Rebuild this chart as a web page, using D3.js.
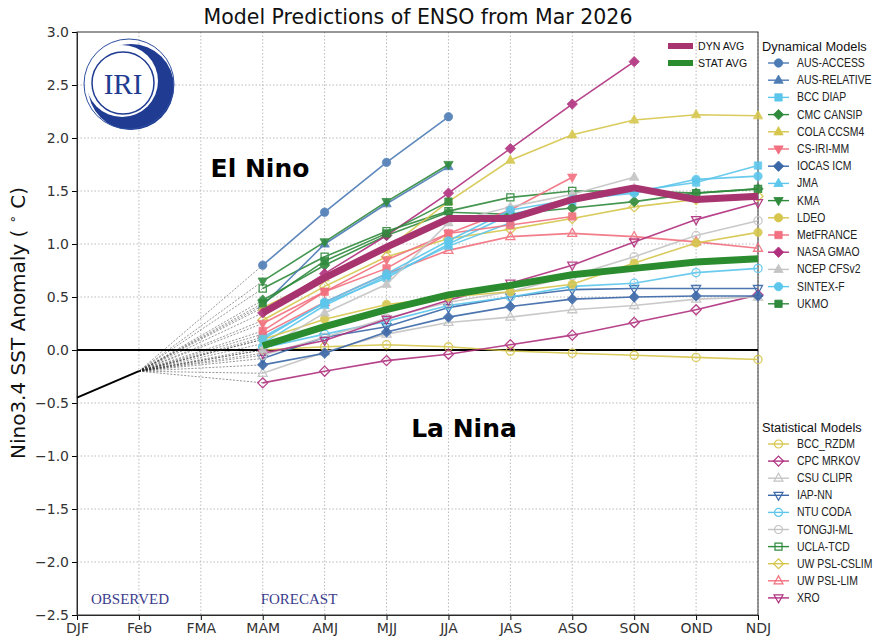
<!DOCTYPE html>
<html>
<head>
<meta charset="utf-8">
<script src="https://cdn.jsdelivr.net/npm/d3@7"></script>
<style>
  body { margin: 0; background: #fff; }
  text { font-family: 'DejaVu Sans', sans-serif; }
</style>
</head>
<body>
<svg width="876" height="640"></svg>
<script>
const svg = d3.select('svg');

// x categories and y ticks
const seasons = ['DJF', 'Feb', 'FMA', 'MAM', 'AMJ', 'MJJ', 'JJA', 'JAS', 'ASO', 'SON', 'OND', 'NDJ'];
const forecastSeasons = ['MAM', 'AMJ', 'MJJ', 'JJA', 'JAS', 'ASO', 'SON', 'OND', 'NDJ'];
const yTicks = [-2.5, -2.0, -1.5, -1.0, -0.5, 0.0, 0.5, 1.0, 1.5, 2.0, 2.5, 3.0];

// observed values (DJF, Feb)
const observedSeasons = ['DJF', 'Feb'];
const observed = [-0.45, -0.2];

// dynamical models, MAM .. NDJ (null = no forecast)
const ausAccess   = [0.80, 1.30, 1.77, 2.20, null, null, null, null, null];
const ausRelative = [0.42, 1.00, 1.38, 1.73, null, null, null, null, null];
const bccDiap     = [0.12, 0.44, 0.68, 1.00, 1.28, 1.40, 1.50, 1.58, 1.74];
const cmcCansip   = [0.47, 0.80, 1.08, 1.30, 1.28, 1.34, 1.40, 1.48, 1.52];
const colaCcsm4   = [0.40, 0.68, 0.95, 1.40, 1.79, 2.03, 2.17, 2.22, 2.21];
const csIriMm     = [0.25, 0.55, 0.85, 1.10, 1.32, 1.63, null, null, null];
const iocasIcm    = [-0.14, -0.03, 0.17, 0.31, 0.41, 0.48, 0.50, 0.51, 0.51];
const jma         = [0.06, 0.42, 0.70, 0.98, 1.20, null, null, null, null];
const kma         = [0.65, 1.02, 1.40, 1.75, null, null, null, null, null];
const ldeo        = [0.10, 0.29, 0.43, 0.50, 0.55, 0.62, 0.82, 1.01, 1.11];
const metFrance   = [0.18, 0.55, 0.77, 1.10, 1.18, 1.26, null, null, null];
const nasaGmao    = [0.35, 0.72, 1.08, 1.48, 1.90, 2.32, 2.72, null, null];
const ncepCfsv2   = [0.00, 0.35, 0.62, 1.20, 1.35, 1.47, 1.63, null, null];
const sintexF     = [0.10, 0.45, 0.72, 1.03, 1.32, 1.42, 1.48, 1.61, 1.64];
const ukmo        = [0.44, 0.84, 1.10, 1.40, null, null, null, null, null];

// statistical models, MAM .. NDJ
const bccRzdm     = [0.00, 0.03, 0.05, 0.03, -0.01, -0.03, -0.05, -0.07, -0.09];
const cpcMrkov    = [-0.31, -0.20, -0.10, -0.04, 0.05, 0.14, 0.26, 0.38, 0.52];
const csuClipr    = [-0.22, -0.02, 0.15, 0.26, 0.31, 0.38, 0.42, 0.48, 0.50];
const iapNn       = [-0.08, 0.12, 0.22, 0.40, 0.50, 0.57, 0.58, 0.58, 0.58];
const ntuCoda     = [0.02, 0.15, 0.27, 0.42, 0.50, 0.60, 0.63, 0.73, 0.77];
const tongjiMl    = [-0.05, 0.12, 0.30, 0.45, 0.55, 0.70, 0.88, 1.08, 1.22];
const uclaTcd     = [0.58, 0.88, 1.12, 1.31, 1.44, 1.50, 1.50, 1.48, 1.52];
const uwPslCslim  = [0.28, 0.60, 0.88, 1.05, 1.14, 1.24, 1.35, 1.42, 1.45];
const uwPslLim    = [0.15, 0.45, 0.72, 0.94, 1.07, 1.10, 1.07, 1.02, 0.96];
const xro         = [-0.03, 0.09, 0.29, 0.47, 0.63, 0.80, 1.02, 1.23, 1.39];

// averages
const dynAvg  = [0.35, 0.68, 0.97, 1.24, 1.24, 1.42, 1.53, 1.42, 1.45];
const statAvg = [0.04, 0.22, 0.38, 0.52, 0.61, 0.71, 0.77, 0.83, 0.86];

// colours
const cSteel = '#4d7cb5';
const cBlue = '#3a67a8';
const cLight = '#5cc6ec';
const cGreen = '#2f8a3c';
const cYellow = '#d6c64c';
const cSalmon = '#f2707f';
const cMagenta = '#b0307e';
const cGray = '#c4c4c4';

// matplotlib-like marker shapes
const triUp = { draw: (ctx, size) => {
  const r = Math.sqrt(size) * 0.62;
  ctx.moveTo(0, -r);
  ctx.lineTo(r * 0.9, r * 0.6);
  ctx.lineTo(-r * 0.9, r * 0.6);
  ctx.closePath();
}};
const triDown = { draw: (ctx, size) => {
  const r = Math.sqrt(size) * 0.62;
  ctx.moveTo(0, r);
  ctx.lineTo(r * 0.9, -r * 0.6);
  ctx.lineTo(-r * 0.9, -r * 0.6);
  ctx.closePath();
}};
const diamond = { draw: (ctx, size) => {
  const r = Math.sqrt(size) * 0.62;
  ctx.moveTo(0, -r);
  ctx.lineTo(r, 0);
  ctx.lineTo(0, r);
  ctx.lineTo(-r, 0);
  ctx.closePath();
}};
const square = { draw: (ctx, size) => {
  const h = Math.sqrt(size) * 0.44;
  ctx.rect(-h, -h, 2 * h, 2 * h);
}};
const circle = { draw: (ctx, size) => {
  const r = Math.sqrt(size) * 0.5;
  ctx.moveTo(r, 0);
  ctx.arc(0, 0, r, 0, 2 * Math.PI);
}};

const dynamical = [
  { name: 'AUS-ACCESS', values: ausAccess, color: cSteel, shape: circle },
  { name: 'AUS-RELATIVE', values: ausRelative, color: cSteel, shape: triUp },
  { name: 'BCC DIAP', values: bccDiap, color: cLight, shape: square },
  { name: 'CMC CANSIP', values: cmcCansip, color: cGreen, shape: diamond },
  { name: 'COLA CCSM4', values: colaCcsm4, color: cYellow, shape: triUp },
  { name: 'CS-IRI-MM', values: csIriMm, color: cSalmon, shape: triDown },
  { name: 'IOCAS ICM', values: iocasIcm, color: cBlue, shape: diamond },
  { name: 'JMA', values: jma, color: cLight, shape: triUp },
  { name: 'KMA', values: kma, color: cGreen, shape: triDown },
  { name: 'LDEO', values: ldeo, color: cYellow, shape: circle },
  { name: 'MetFRANCE', values: metFrance, color: cSalmon, shape: square },
  { name: 'NASA GMAO', values: nasaGmao, color: cMagenta, shape: diamond },
  { name: 'NCEP CFSv2', values: ncepCfsv2, color: cGray, shape: triUp },
  { name: 'SINTEX-F', values: sintexF, color: cLight, shape: circle },
  { name: 'UKMO', values: ukmo, color: cGreen, shape: square }
];

const statistical = [
  { name: 'BCC_RZDM', values: bccRzdm, color: cYellow, shape: circle },
  { name: 'CPC MRKOV', values: cpcMrkov, color: cMagenta, shape: diamond },
  { name: 'CSU CLIPR', values: csuClipr, color: cGray, shape: triUp },
  { name: 'IAP-NN', values: iapNn, color: cBlue, shape: triDown },
  { name: 'NTU CODA', values: ntuCoda, color: cLight, shape: circle },
  { name: 'TONGJI-ML', values: tongjiMl, color: cGray, shape: circle },
  { name: 'UCLA-TCD', values: uclaTcd, color: cGreen, shape: square },
  { name: 'UW PSL-CSLIM', values: uwPslCslim, color: cYellow, shape: diamond },
  { name: 'UW PSL-LIM', values: uwPslLim, color: cSalmon, shape: triUp },
  { name: 'XRO', values: xro, color: cMagenta, shape: triDown }
];

const x = d3.scalePoint().domain(seasons).range([77, 758]);
const y = d3.scaleLinear().domain([-2.5, 3]).range([615, 32]);

//grid
const grid = svg.append('g');
grid.selectAll('.vg').data(seasons.slice(1)).enter().append('line')
  .attr('x1', d => x(d)).attr('x2', d => x(d))
  .attr('y1', y(3)).attr('y2', y(-2.5))
  .attr('stroke', '#bbb').attr('stroke-dasharray', '1.5,2').attr('stroke-width', 1);
grid.selectAll('.hg').data(yTicks.slice(1, -1)).enter().append('line')
  .attr('x1', x('DJF')).attr('x2', x('NDJ'))
  .attr('y1', d => y(d)).attr('y2', d => y(d))
  .attr('stroke', '#bbb').attr('stroke-dasharray', '1.5,2').attr('stroke-width', 1);

//axes
const xAxis = d3.axisBottom(x).tickSize(5).tickPadding(3);
const yAxis = d3.axisLeft(y).tickValues(yTicks).tickFormat(d3.format('.1f')).tickSize(5).tickPadding(3);

const xAxisG = svg.append('g').attr('transform', `translate(0,${y(-2.5)})`).call(xAxis);
const yAxisG = svg.append('g').attr('transform', `translate(${x('DJF')},0)`).call(yAxis);
[xAxisG, yAxisG].forEach(g => {
  g.selectAll('text').attr('font-size', 14).attr('fill', '#333')
    .style('font-family', "'DejaVu Sans', sans-serif");
  g.select('.domain').attr('stroke', '#222');
});
yAxisG.selectAll('text').text(d => d3.format('.1f')(d).replace('-', '\u2212'));

// frame
svg.append('rect')
  .attr('x', x('DJF')).attr('y', y(3))
  .attr('width', x('NDJ') - x('DJF')).attr('height', y(-2.5) - y(3))
  .attr('fill', 'none').attr('stroke', '#333').attr('stroke-width', 1);

// zero line
svg.append('line')
  .attr('x1', x('DJF')).attr('x2', x('NDJ'))
  .attr('y1', y(0)).attr('y2', y(0))
  .attr('stroke', '#000').attr('stroke-width', 2.2);

// IRI logo
const logo = svg.append('g');
logo.append('circle').attr('cx', 131).attr('cy', 87).attr('r', 43).attr('fill', '#1f3b92');
logo.append('circle').attr('cx', 122).attr('cy', 81).attr('r', 36).attr('fill', '#fff');
logo.append('circle').attr('cx', 129).attr('cy', 84).attr('r', 45)
  .attr('fill', 'none').attr('stroke', '#2c4d9f').attr('stroke-width', 1);
logo.append('circle').attr('cx', 123).attr('cy', 83).attr('r', 31)
  .attr('fill', 'none').attr('stroke', '#1f3b92').attr('stroke-width', 1.5);
logo.append('text').attr('x', 123).attr('y', 94).attr('text-anchor', 'middle')
  .style('font-family', "'Liberation Serif', serif").attr('font-size', 29)
  .attr('fill', '#1f3b92').text('IRI');

// text labels in plot
svg.append('text').attr('x', 260).attr('y', 177).attr('text-anchor', 'middle')
  .attr('font-size', 25).attr('font-weight', 'bold').attr('fill', '#000').text('El Nino');
svg.append('text').attr('x', 464).attr('y', 437).attr('text-anchor', 'middle')
  .attr('font-size', 25).attr('font-weight', 'bold').attr('fill', '#000').text('La Nina');
svg.append('text').attr('x', 130).attr('y', 604).attr('text-anchor', 'middle')
  .style('font-family', "'Liberation Serif', serif").attr('font-size', 15)
  .attr('fill', '#3c3c8c').text('OBSERVED');
svg.append('text').attr('x', 299).attr('y', 604).attr('text-anchor', 'middle')
  .style('font-family', "'Liberation Serif', serif").attr('font-size', 15)
  .attr('fill', '#3c3c8c').text('FORECAST');

// title and y label
svg.append('text').attr('x', 418).attr('y', 24).attr('text-anchor', 'middle')
  .attr('font-size', 20.5).attr('fill', '#111').text('Model Predictions of ENSO from Mar 2026');
const yLab = svg.append('text').attr('transform', 'translate(25,323) rotate(-90)')
  .attr('text-anchor', 'middle').attr('font-size', 20).attr('fill', '#111');
yLab.append('tspan').text('Nino3.4 SST Anomaly ( ');
yLab.append('tspan').attr('font-size', 13).attr('dy', -8).text('\u2218');
yLab.append('tspan').attr('dy', 8).text(' C)');

const allModels = dynamical.concat(statistical);

// dashed links from the last observation to each first forecast
const plot = svg.append('g');
plot.selectAll('.link').data(allModels).enter().append('line')
  .attr('x1', x('Feb')).attr('y1', y(observed[1]))
  .attr('x2', x('MAM')).attr('y2', d => y(d.values[0]))
  .attr('stroke', '#222').attr('stroke-opacity', 0.6)
  .attr('stroke-width', 0.8).attr('stroke-dasharray', '2,1.5');

// observed line
const obsLine = d3.line().x((d, i) => x(observedSeasons[i])).y(d => y(d));
plot.append('path').attr('d', obsLine(observed))
  .attr('fill', 'none').attr('stroke', '#000').attr('stroke-width', 2);

const line = d3.line()
  .defined(d => d != null)
  .x((d, i) => x(forecastSeasons[i]))
  .y(d => y(d));

const pts = m => m.values.map((v, i) => ({ v, s: forecastSeasons[i] })).filter(p => p.v != null);

// models
const drawModel = (m, filled) => {
  const g = plot.append('g').attr('opacity', 0.9);
  g.append('path').attr('d', line(m.values))
    .attr('fill', 'none').attr('stroke', m.color).attr('stroke-width', 1.6);
  g.selectAll('path.mk').data(pts(m)).enter().append('path')
    .attr('class', 'mk')
    .attr('d', d3.symbol().type(m.shape).size(filled ? 70 : 66))
    .attr('transform', p => `translate(${x(p.s)},${y(p.v)})`)
    .attr('fill', filled ? m.color : 'none')
    .attr('stroke', m.color).attr('stroke-width', filled ? 0.8 : 1.3);
};
statistical.forEach(m => drawModel(m, false));
dynamical.forEach(m => drawModel(m, true));

// averages
plot.append('path').attr('d', line(statAvg))
  .attr('fill', 'none').attr('stroke', '#2a8c2e').attr('stroke-width', 7).attr('stroke-linejoin', 'round');
plot.append('path').attr('d', line(dynAvg))
  .attr('fill', 'none').attr('stroke', '#a8346f').attr('stroke-width', 7).attr('stroke-linejoin', 'round');

// average legend
const avgLegend = [
  { name: 'DYN AVG', color: '#a8346f' },
  { name: 'STAT AVG', color: '#2a8c2e' }
];
const al = svg.append('g').selectAll('g').data(avgLegend).enter().append('g')
  .attr('transform', (d, i) => `translate(668,${46 + i * 17})`);
al.append('line').attr('x1', 0).attr('x2', 25).attr('stroke', d => d.color).attr('stroke-width', 6);
al.append('text').attr('transform', 'translate(30,4) scale(0.92,1)').attr('font-size', 11.5)
  .style('font-family', "'Liberation Sans', sans-serif").attr('fill', '#111').text(d => d.name);

// model legends
const modelLegend = (title, list, top, step, filled) => {
  const g = svg.append('g');
  g.append('text').attr('transform', `translate(762,${top - 12}) scale(0.95,1)`).attr('font-size', 13.5)
    .style('font-family', "'Liberation Sans', sans-serif").attr('fill', '#111').text(title);
  const it = g.selectAll('g').data(list).enter().append('g')
    .attr('transform', (d, i) => `translate(768,${top + i * step})`);
  it.append('line').attr('x1', 0).attr('x2', 21).attr('stroke', d => d.color).attr('stroke-width', 1.4);
  it.append('path')
    .attr('d', d => d3.symbol().type(d.shape).size(filled ? 70 : 64)())
    .attr('transform', 'translate(10.5,0)')
    .attr('fill', d => filled ? d.color : 'none')
    .attr('stroke', d => d.color).attr('stroke-width', filled ? 0.8 : 1.2);
  it.append('text').attr('transform', 'translate(29,4) scale(0.87,1)').attr('font-size', 12)
    .style('font-family', "'Liberation Sans', sans-serif").attr('fill', '#222').text(d => d.name);
};
modelLegend('Dynamical Models', dynamical, 63, 17.2, true);
modelLegend('Statistical Models', statistical, 444, 17.1, false);
</script>
</body>
</html>
